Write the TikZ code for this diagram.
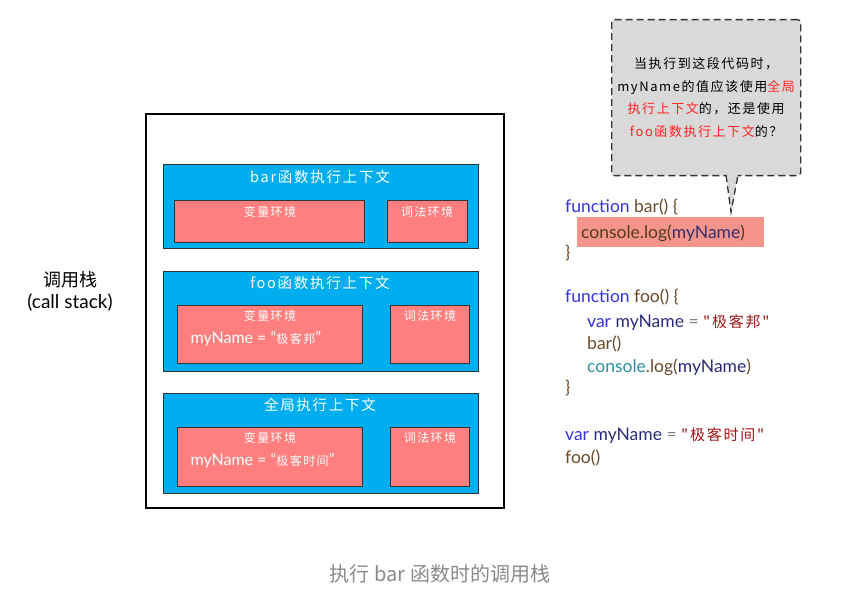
\documentclass[tikz,border=0pt]{standalone}
\usepackage{fontspec}
\setmainfont{Lato}
\newfontfamily\cjk{Noto Sans CJK SC}
\newfontfamily\cjkwide{Noto Sans CJK SC}[LetterSpace=12]
\definecolor{ctxblue}{HTML}{00AEEF}
\definecolor{envred}{HTML}{FF7F7F}
\definecolor{hlred}{HTML}{F4948A}
\definecolor{notegray}{HTML}{D9D9D9}
\definecolor{notered}{HTML}{FF2222}
\definecolor{kwblue}{HTML}{3434E0}
\definecolor{fnbrown}{HTML}{6B4A2B}
\definecolor{objteal}{HTML}{2F8FA0}
\definecolor{idnavy}{HTML}{2A2A7A}
\definecolor{strred}{HTML}{A31515}
\definecolor{capgray}{HTML}{8A8A8A}
\tikzset{
  ctxbox/.style={draw=black!80,fill=ctxblue,anchor=north west,inner sep=0pt},
  envbox/.style={draw=black!80,thick,fill=envred,anchor=north west,inner sep=0pt},
  ctxtitle/.style={text=white,font=\cjkwide\fontsize{14.5}{16}\selectfont},
  envtitle/.style={text=white,font=\cjkwide\fontsize{12}{14}\selectfont},
  envvar/.style={text=white,anchor=base west,font=\fontsize{16}{18}\selectfont},
  codeline/.style={anchor=base west,inner sep=0pt,font=\fontsize{17.5}{20}\selectfont},
}
\newcommand{\hs}[1]{{\cjkwide\fontsize{15}{17}\selectfont#1}}
\begin{document}
\begin{tikzpicture}[x=1pt,y=-1pt]
\useasboundingbox (0,0) rectangle (843,604);
\node[draw,line width=1.6pt,anchor=north west,minimum width=358pt,minimum height=394pt] (stack) at (145,113) {};
\node[font=\cjk\fontsize{18}{20}\selectfont] (stacklbl) at (70,280) {调用栈};
\node[font=\fontsize{19}{21}\selectfont] (stacklbl2) at (70,303) {(call stack)};

\node[ctxbox,minimum width=315pt,minimum height=84pt] (barctx) at (163,164) {};
\node[ctxtitle] (bart) at (320,177) {bar函数执行上下文};
\node[envbox,minimum width=190pt,minimum height=42pt] (barvar) at (174,200) {};
\node[envbox,minimum width=80pt,minimum height=42pt] (barlex) at (387,200) {};
\node[envtitle] at (270,212) {变量环境};
\node[envtitle] at (427,212) {词法环境};

\node[ctxbox,minimum width=315pt,minimum height=100pt] (fooctx) at (163,271) {};
\node[ctxtitle] (foot) at (320,283) {foo函数执行上下文};
\node[envbox,minimum width=185pt,minimum height=58pt] (foovar) at (177,305) {};
\node[envbox,minimum width=79pt,minimum height=58pt] (foolex) at (390,305) {};
\node[envtitle] at (270,316) {变量环境};
\node[envtitle] at (430,316) {词法环境};
\node[envvar] at (187,343) {myName = “{\cjkwide\fontsize{12}{14}\selectfont 极客邦}”};

\node[ctxbox,minimum width=315pt,minimum height=100pt] (globctx) at (163,393) {};
\node[ctxtitle] (globt) at (320,405) {全局执行上下文};
\node[envbox,minimum width=185pt,minimum height=59pt] (globvar) at (177,427) {};
\node[envbox,minimum width=79pt,minimum height=59pt] (globlex) at (390,427) {};
\node[envtitle] at (270,438) {变量环境};
\node[envtitle] at (430,438) {词法环境};
\node[envvar] at (187,465) {myName = “{\cjkwide\fontsize{12}{14}\selectfont 极客时间}”};

\node[fill=hlred,anchor=north west,minimum width=187pt,minimum height=30pt] (hl) at (577,217) {};
\node[codeline] (c1) at (565,213) {\textcolor{kwblue}{function} \textcolor{fnbrown}{bar() \{}};
\node[codeline] (c2) at (581,238) {\textcolor{fnbrown!80!black}{console.log(}\textcolor{idnavy!80!fnbrown}{myName}\textcolor{fnbrown!80!black}{)}};
\node[codeline] (c3) at (565,258) {\textcolor{fnbrown}{\}}};
\node[codeline] (c4) at (565,302) {\textcolor{kwblue}{function} \textcolor{fnbrown}{foo() \{}};
\node[codeline] (c5) at (587,327) {\textcolor{kwblue}{var} \textcolor{idnavy}{myName} \textcolor{gray}{=} \textcolor{strred}{\hs{"极客邦"}}};
\node[codeline] (c6) at (587,349) {\textcolor{fnbrown}{bar()}};
\node[codeline] (c7) at (587,372) {\textcolor{objteal}{console}\textcolor{fnbrown}{.log(}\textcolor{idnavy}{myName}\textcolor{fnbrown}{)}};
\node[codeline] (c8) at (565,393) {\textcolor{fnbrown}{\}}};
\node[codeline] (c9) at (565,440) {\textcolor{kwblue}{var} \textcolor{idnavy}{myName} \textcolor{gray}{=} \textcolor{strred}{\hs{"极客时间"}}};
\node[codeline] (c10) at (565,463) {\textcolor{fnbrown}{foo()}};

\node[draw=black!80,line width=1.3pt,dash pattern=on 7pt off 4pt,fill=notegray,rounded corners=3pt,anchor=north west,minimum width=189pt,minimum height=156pt,align=center,font=\cjkwide\fontsize{13}{22.5}\selectfont] (note) at (611,19)
  {当执行到这段代码时，\\myName的值应该使用\textcolor{notered}{全局}\\\textcolor{notered}{执行上下文}的，还是使用\\\textcolor{notered}{foo函数执行上下文}的？};
\coordinate (tip) at (731,212);
\fill[notegray] (726,173) -- (tip) -- (738,173) -- cycle;
\draw[black!80,line width=1.3pt,dash pattern=on 7pt off 4pt] (726,175) -- (tip) -- (738,175);

\node[text=capgray,font=\cjk\fontsize{20}{22}\selectfont] (caption) at (440,574) {执行 bar 函数时的调用栈};
\end{tikzpicture}
\end{document}
